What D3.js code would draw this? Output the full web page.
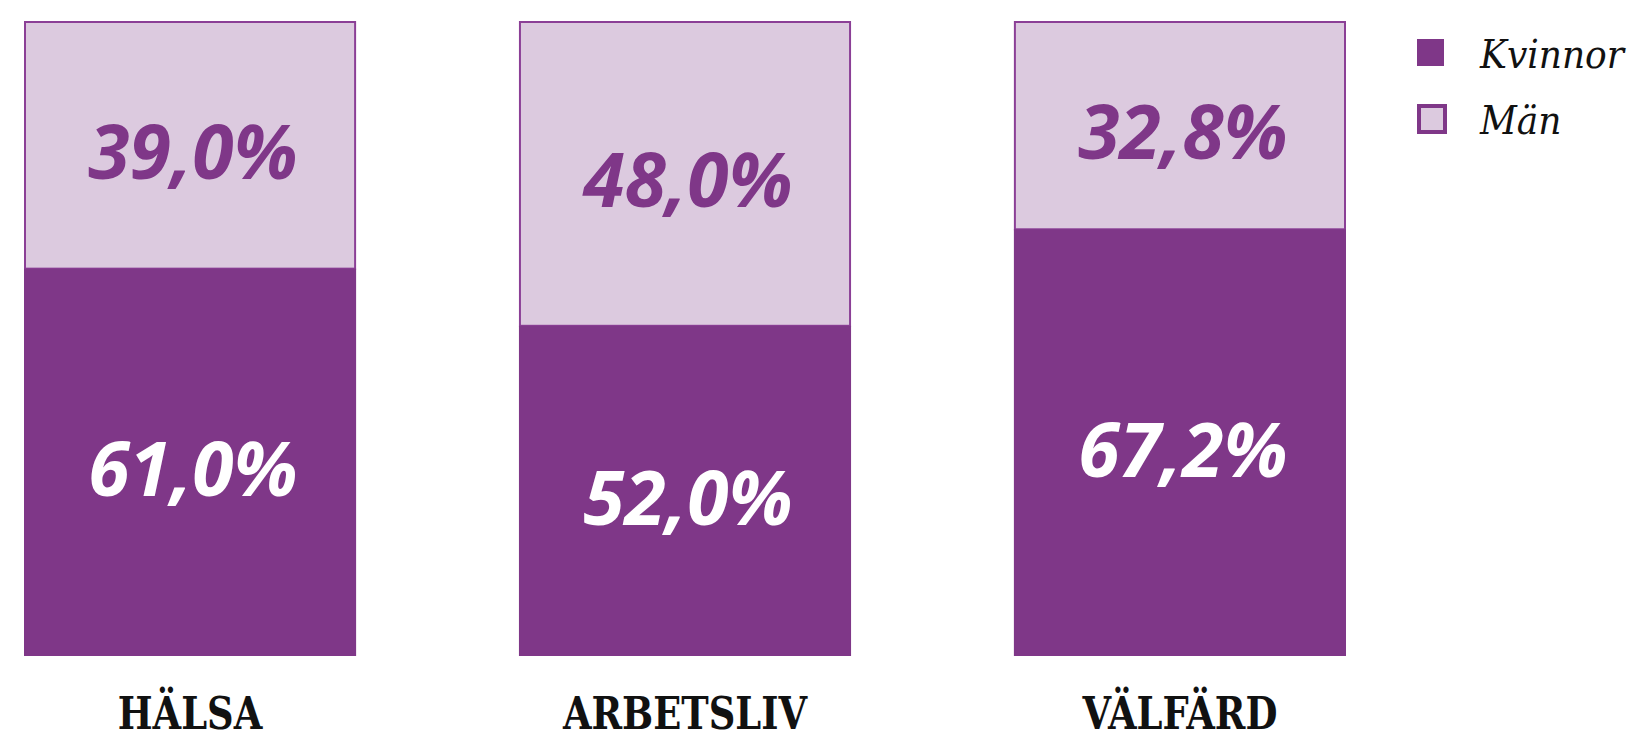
<!DOCTYPE html>
<html lang="sv">
<head>
<meta charset="utf-8">
<title>Kvinnor och män</title>
<script src="https://cdn.jsdelivr.net/npm/d3@7"></script>
<style>
  body { margin: 0; background: #fff; }
  svg { display: block; }
</style>
</head>
<body>
<div id="chart"></div>
<script>
const categories = ["HÄLSA", "ARBETSLIV", "VÄLFÄRD"];
const kvinnor = [61.0, 52.0, 67.2];
const man = [39.0, 48.0, 32.8];
const seriesNames = ["Kvinnor", "Män"];

const w = 1628;
const h = 732;
const dark = "#7f3788";
const light = "#dccadf";
const edge = "#8b3f96";

const fmt = (v) => v.toFixed(1).replace(".", ",") + "%";

let xScale = d3.scaleBand()
  .domain(categories)
  .range([24, 1346])
  .paddingInner(0.329)
  .paddingOuter(0);

let yScale = d3.scaleLinear()
  .domain([0, 100])
  .range([656, 21]);

let svg = d3.select("#chart")
  .append("svg")
  .attr("width", w)
  .attr("height", h);

const rows = categories.map((c, i) => ({ cat: c, k: kvinnor[i], m: man[i] }));

// Män (top, light with outline)
svg.append("g")
  .attr("class", "man")
  .selectAll("rect")
  .data(rows)
  .enter()
  .append("rect")
  .attr("x", (d) => xScale(d.cat) + 1)
  .attr("y", (d) => yScale(100) + 1)
  .attr("width", xScale.bandwidth() - 2)
  .attr("height", (d) => yScale(d.k) - yScale(100) - 1)
  .attr("fill", light)
  .attr("stroke", edge)
  .attr("stroke-width", 2);

// Kvinnor (bottom, dark)
svg.append("g")
  .attr("class", "kvinnor")
  .selectAll("rect")
  .data(rows)
  .enter()
  .append("rect")
  .attr("x", (d) => xScale(d.cat))
  .attr("y", (d) => yScale(d.k))
  .attr("width", xScale.bandwidth())
  .attr("height", (d) => yScale(0) - yScale(d.k))
  .attr("fill", dark);

const valueFont = (sel) => sel
  .attr("font-family", "'Open Sans', Roboto, sans-serif")
  .attr("font-weight", 700)
  .attr("font-style", "italic")
  .attr("font-size", 75)
  .attr("text-anchor", "middle")
  .attr("dominant-baseline", "central");

svg.append("g")
  .selectAll("text")
  .data(rows)
  .enter()
  .append("text")
  .attr("x", (d) => xScale(d.cat) + xScale.bandwidth() / 2 + 3)
  .attr("y", (d) => (yScale(100) + yScale(d.k)) / 2 + 5)
  .attr("fill", dark)
  .text((d) => fmt(d.m))
  .call(valueFont);

svg.append("g")
  .selectAll("text")
  .data(rows)
  .enter()
  .append("text")
  .attr("x", (d) => xScale(d.cat) + xScale.bandwidth() / 2 + 3)
  .attr("y", (d) => (yScale(d.k) + yScale(0)) / 2 + 5)
  .attr("fill", "#fff")
  .text((d) => fmt(d.k))
  .call(valueFont);

// category labels
svg.append("g")
  .selectAll("text")
  .data(categories)
  .enter()
  .append("text")
  .attr("transform", (d) => "translate(" + (xScale(d) + xScale.bandwidth() / 2) + ",729) scale(0.91,1)")
  .attr("text-anchor", "middle")
  .attr("font-family", "'DejaVu Serif', serif")
  .attr("font-stretch", "condensed")
  .attr("font-weight", 700)
  .attr("font-size", 45)
  .attr("fill", "#111")
  .text((d) => d);

// legend
let legend = svg.append("g")
  .attr("class", "legend")
  .selectAll("g")
  .data(seriesNames)
  .enter()
  .append("g")
  .attr("transform", (d, i) => "translate(1417," + (39 + i * 66) + ")");

legend.append("rect")
  .attr("x", (d, i) => i ? 2 : 0)
  .attr("y", (d, i) => i ? 1 : 0)
  .attr("width", (d, i) => i ? 26 : 27)
  .attr("height", (d, i) => i ? 26 : 27)
  .attr("fill", (d, i) => i ? light : dark)
  .attr("stroke", (d, i) => i ? dark : "none")
  .attr("stroke-width", 4);

legend.append("text")
  .attr("x", 63)
  .attr("y", 29)
  .attr("font-family", "'DejaVu Serif', serif")
  .attr("font-stretch", "condensed")
  .attr("font-style", "italic")
  .attr("font-size", 40)
  .attr("fill", "#111")
  .text((d) => d);
</script>
</body>
</html>
